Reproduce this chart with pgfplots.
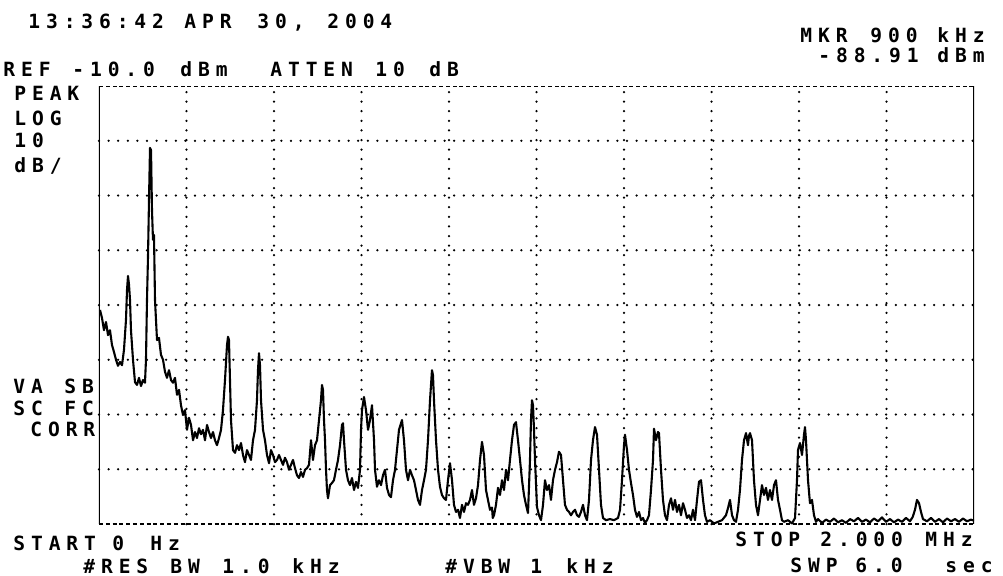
\documentclass[border=0pt]{standalone}
\usepackage{pgfplots}
\pgfplotsset{compat=1.18}
\usepackage{fontspec}
\newfontfamily\hpfont{DejaVu Sans Mono}[LetterSpace=30]
\begin{document}
\begin{tikzpicture}
\begin{axis}[at={(0,0)},anchor=south west,scale only axis,width=437.5pt,height=219pt,
 xmin=0,xmax=2000,ymin=-90,ymax=-10,
 xtick={200,400,...,1800}, ytick={-80,-70,...,-20},
 xticklabels={},yticklabels={}, major tick length=0pt,
 grid=major, major grid style={black,line width=1.25pt,line cap=round,dash pattern=on 0pt off 4.8pt},
 axis line style={draw=none}]
\addplot[black,line width=1.05pt,line join=round] table {
2.3 -50.9
6.9 -52.4
11.4 -54.6
16.0 -53.1
20.6 -55.5
25.1 -54.6
29.7 -57.3
34.3 -58.6
38.9 -60.0
43.4 -61.1
48.0 -60.4
52.6 -61.0
57.1 -58.2
61.7 -52.7
64.0 -47.3
66.3 -44.7
68.6 -46.3
70.9 -49.1
73.1 -54.6
77.7 -60.0
82.3 -64.1
86.9 -64.6
91.4 -63.3
96.0 -64.8
100.6 -63.7
105.1 -64.2
107.4 -60.0
109.7 -49.1
112.0 -41.2
114.3 -30.8
116.6 -21.3
118.9 -21.7
121.1 -32.6
123.4 -38.1
125.7 -37.2
128.0 -49.1
132.6 -56.4
137.1 -56.0
141.7 -59.1
146.3 -60.0
150.9 -62.2
155.4 -63.3
160.0 -61.9
164.6 -63.7
169.1 -64.2
173.7 -63.3
178.3 -66.4
182.9 -65.5
187.4 -68.3
192.0 -70.1
196.6 -69.2
201.1 -72.8
205.7 -70.6
210.3 -71.9
214.9 -74.7
219.4 -73.2
224.0 -74.3
228.6 -72.5
233.1 -73.6
237.7 -72.8
242.3 -74.7
246.9 -71.9
251.4 -73.2
256.0 -74.3
260.6 -73.2
265.1 -74.7
269.7 -75.6
274.3 -74.3
278.9 -72.8
283.4 -69.2
288.0 -63.7
292.6 -57.3
294.9 -55.8
297.1 -56.4
299.4 -63.7
301.7 -71.0
306.3 -76.5
310.9 -77.0
315.4 -75.6
320.0 -76.5
324.6 -75.2
329.1 -77.4
333.7 -78.7
338.3 -76.5
342.9 -77.4
347.4 -78.3
352.0 -74.7
356.6 -72.8
361.1 -67.4
363.4 -61.9
365.7 -58.8
368.0 -61.0
370.3 -67.4
374.9 -72.8
379.4 -74.7
384.0 -77.4
388.6 -78.9
393.1 -76.5
397.7 -77.4
402.3 -78.7
406.9 -78.3
411.4 -77.4
416.0 -78.3
420.6 -79.2
425.1 -77.9
429.7 -78.7
434.3 -80.1
438.9 -79.2
443.4 -78.3
448.0 -79.8
452.6 -81.1
457.1 -81.6
461.7 -80.5
466.3 -81.4
470.9 -80.1
475.4 -79.8
480.0 -79.2
484.6 -74.7
489.1 -78.3
493.7 -75.6
498.3 -74.7
502.9 -71.0
507.4 -67.4
509.7 -64.6
512.0 -65.5
514.3 -71.0
516.6 -74.7
518.9 -80.1
521.1 -83.8
523.4 -85.3
528.0 -82.9
532.6 -82.5
537.1 -82.0
541.7 -80.1
546.3 -78.3
550.9 -75.6
555.4 -71.9
557.7 -71.6
560.0 -74.7
564.6 -80.1
569.1 -82.0
573.7 -82.9
578.3 -81.6
582.9 -83.8
587.4 -82.3
592.0 -83.4
596.6 -80.1
598.9 -72.8
601.1 -69.2
605.7 -66.8
610.3 -69.2
614.9 -72.8
619.4 -71.0
624.0 -68.3
628.6 -74.7
630.9 -80.1
635.4 -83.2
640.0 -82.0
644.6 -82.9
649.1 -81.1
653.7 -80.1
658.3 -83.4
662.9 -84.7
667.4 -85.1
672.0 -82.0
676.6 -80.1
681.1 -76.5
685.7 -72.8
692.6 -71.0
697.1 -74.7
701.7 -80.1
706.3 -82.0
710.9 -80.1
715.4 -81.1
720.0 -82.0
724.6 -83.8
729.1 -85.6
733.7 -86.5
738.3 -83.8
742.9 -82.0
747.4 -80.1
752.0 -74.7
756.6 -67.4
761.1 -61.9
763.4 -62.8
765.7 -67.4
770.3 -74.7
774.9 -80.1
779.4 -83.2
784.0 -84.7
788.6 -85.3
793.1 -85.6
797.7 -82.0
802.3 -78.9
806.9 -82.0
811.4 -86.5
816.0 -87.8
820.6 -87.4
825.1 -88.9
829.7 -86.5
834.3 -87.8
838.9 -86.2
843.4 -86.5
848.0 -85.6
852.6 -83.8
857.1 -86.5
861.7 -85.3
866.3 -82.9
870.9 -78.3
875.4 -75.0
880.0 -77.4
884.6 -83.8
889.1 -85.6
893.7 -87.4
898.3 -87.0
900.0 -88.9
902.9 -88.4
907.4 -86.5
912.0 -83.4
916.6 -84.7
921.1 -82.0
925.7 -83.8
930.3 -80.1
934.9 -82.0
939.4 -78.3
944.0 -74.7
948.6 -71.9
953.1 -71.4
957.7 -74.7
962.3 -78.3
966.9 -82.0
971.4 -84.7
976.0 -86.5
980.6 -88.0
985.1 -78.3
987.4 -71.0
989.7 -67.4
992.0 -68.3
994.3 -72.8
996.6 -78.3
1001.1 -86.9
1005.7 -88.4
1010.3 -89.3
1014.9 -86.5
1019.4 -82.0
1024.0 -83.8
1028.6 -82.9
1033.1 -85.6
1037.7 -82.0
1042.3 -80.1
1046.9 -78.7
1051.4 -76.8
1056.0 -77.4
1060.6 -82.0
1065.1 -86.5
1069.7 -87.4
1074.3 -87.8
1078.9 -88.4
1083.4 -87.8
1088.0 -87.4
1092.6 -88.4
1097.1 -88.7
1101.7 -87.8
1106.3 -86.5
1110.9 -88.4
1115.4 -89.3
1120.0 -85.6
1124.6 -78.3
1129.1 -74.7
1133.7 -72.3
1138.3 -73.7
1142.9 -80.1
1147.4 -86.5
1152.0 -88.9
1158.9 -89.3
1168.0 -89.1
1177.1 -89.3
1186.3 -88.9
1190.9 -87.4
1195.4 -82.0
1200.0 -75.6
1202.3 -73.7
1206.9 -76.5
1211.4 -80.1
1216.0 -82.5
1220.6 -84.7
1225.1 -87.4
1229.7 -88.7
1234.3 -87.8
1238.9 -89.3
1243.4 -88.9
1248.0 -89.8
1252.6 -89.3
1257.1 -88.4
1261.7 -83.8
1266.3 -78.3
1268.6 -72.6
1273.1 -74.7
1277.7 -73.2
1280.0 -73.4
1284.6 -80.1
1289.1 -85.6
1293.7 -88.4
1298.3 -89.3
1302.9 -86.5
1307.4 -85.3
1312.0 -87.4
1316.6 -85.6
1321.1 -87.8
1325.7 -86.5
1330.3 -88.4
1334.9 -86.2
1339.4 -87.4
1344.0 -88.9
1348.6 -88.4
1353.1 -89.3
1357.7 -87.4
1362.3 -89.3
1366.9 -85.6
1371.4 -82.3
1376.0 -82.0
1380.6 -85.6
1385.1 -88.4
1389.7 -89.6
1396.6 -89.3
1405.7 -89.9
1414.9 -89.6
1424.0 -89.3
1433.1 -88.4
1437.7 -87.1
1442.3 -85.6
1446.9 -88.4
1451.4 -89.3
1456.0 -89.6
1460.6 -87.4
1465.1 -83.8
1469.7 -78.3
1474.3 -74.7
1478.9 -73.4
1483.4 -75.6
1485.7 -73.9
1488.0 -73.4
1492.6 -74.7
1497.1 -82.0
1501.7 -86.5
1506.3 -88.4
1510.9 -85.6
1515.4 -82.9
1520.0 -84.7
1524.6 -83.4
1529.1 -85.6
1533.7 -83.8
1538.3 -85.6
1542.9 -82.9
1547.4 -82.0
1552.0 -85.6
1556.6 -87.4
1561.1 -89.3
1565.7 -89.6
1574.9 -89.3
1584.0 -89.9
1590.9 -88.9
1595.4 -82.0
1597.7 -76.5
1602.3 -75.2
1606.9 -77.4
1611.4 -73.7
1613.7 -72.3
1616.0 -74.7
1620.6 -82.0
1625.1 -86.2
1629.7 -85.6
1634.3 -88.4
1638.9 -89.6
1643.4 -89.1
1652.6 -89.8
1661.7 -89.2
1670.9 -89.6
1680.0 -89.0
1689.1 -89.7
1698.3 -89.3
1707.4 -89.8
1716.6 -89.1
1725.7 -89.5
1734.9 -88.9
1744.0 -89.6
1753.1 -89.2
1762.3 -89.7
1771.4 -89.0
1780.6 -89.5
1789.7 -88.8
1798.9 -89.6
1808.0 -89.1
1817.1 -89.7
1826.3 -89.2
1835.4 -89.6
1844.6 -88.9
1853.7 -89.5
1860.0 -88.7
1865.1 -87.4
1869.7 -85.6
1874.3 -86.2
1878.9 -87.8
1883.4 -89.1
1892.6 -89.5
1901.7 -88.9
1910.9 -89.6
1920.0 -89.1
1929.1 -89.7
1938.3 -89.0
1947.4 -89.5
1956.6 -89.1
1965.7 -89.6
1974.9 -89.0
1984.0 -89.5
1993.1 -89.2
2000.0 -89.4
};
\draw[black,line width=1.4pt] (rel axis cs:0,0) -- (rel axis cs:0,1);
\draw[black,line width=1.4pt] (rel axis cs:1,0) -- (rel axis cs:1,1);
\draw[black,line width=1.1pt,dash pattern=on 2pt off 1.4pt] (rel axis cs:0,1) -- (rel axis cs:1,1);
\draw[black,line width=1.1pt,dash pattern=on 2pt off 1.4pt] (rel axis cs:0,0) -- (rel axis cs:1,0);
\end{axis}
\begin{scope}[x=0.5pt,y=-0.5pt,shift={(-49.5pt,262pt)},
  every node/.style={anchor=base west,inner sep=0pt,font=\hpfont\bfseries\fontsize{9.8}{11}\selectfont}]
\node at (28,28) {13:36:42};
\node at (184,28) {APR};
\node at (257,28) {30,};
\node at (327,28) {2004};
\node at (3,76) {REF};
\node at (72,76) {-10.0};
\node at (180,76) {dBm};
\node at (270,76) {ATTEN};
\node at (375,76) {10};
\node at (429,76) {dB};
\node at (800,42) {MKR};
\node at (870,42) {900};
\node at (937,42) {kHz};
\node at (818,62) {-88.91};
\node at (937,62) {dBm};
\node at (14,100) {PEAK};
\node at (14,125) {LOG};
\node at (14,147) {10};
\node at (14,172) {dB/};
\node at (13,393) {VA};
\node at (64,393) {SB};
\node at (13,415) {SC};
\node at (64,415) {FC};
\node at (30,436) {CORR};
\node at (13,550) {START};
\node at (112,550) {0};
\node at (150,550) {Hz};
\node at (83,573) {\#RES};
\node at (170,573) {BW};
\node at (222,573) {1.0};
\node at (292,573) {kHz};
\node at (445,573) {\#VBW};
\node at (530,573) {1};
\node at (566,573) {kHz};
\node at (735,546) {STOP};
\node at (820,546) {2.000};
\node at (925,546) {MHz};
\node at (790,572) {SWP};
\node at (855,572) {6.0};
\node at (945,572) {sec};
\pgfresetboundingbox
\path[use as bounding box] (0,0) rectangle (1003,575);
\end{scope}
\end{tikzpicture}
\end{document}
